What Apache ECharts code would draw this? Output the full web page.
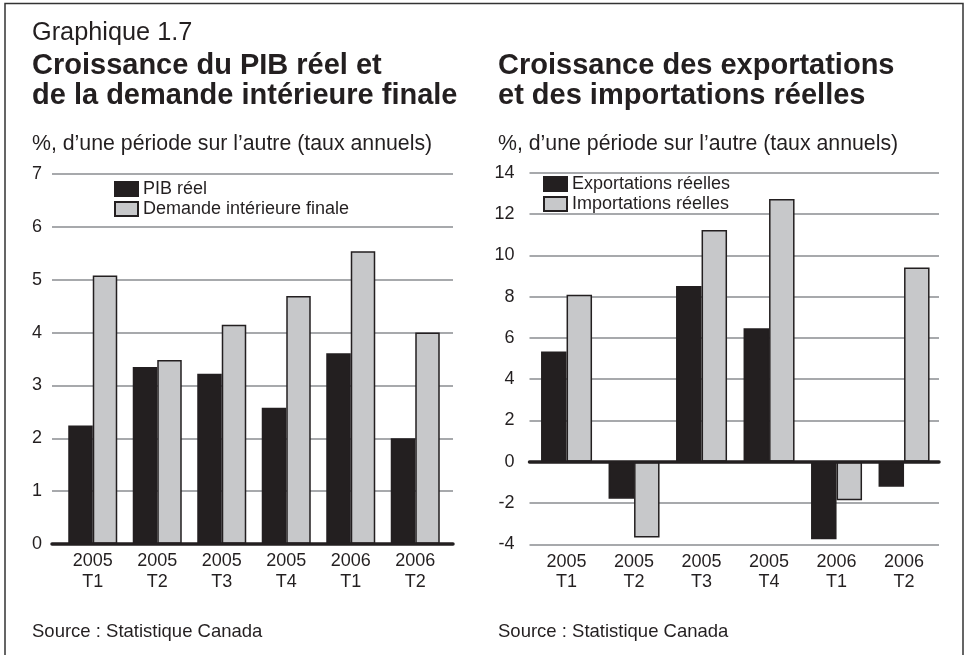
<!DOCTYPE html>
<html>
<head>
<meta charset="utf-8">
<title>Graphique 1.7</title>
<script src="https://cdn.jsdelivr.net/npm/echarts@6/dist/echarts.min.js"></script>
<style>
  html, body { margin: 0; padding: 0; background: #fff; }
  #chart { width: 966px; height: 655px; }
</style>
</head>
<body>
<div id="chart"></div>
<script>
// categories (trimestres)
const categories = ['2005\nT1', '2005\nT2', '2005\nT3', '2005\nT4', '2006\nT1', '2006\nT2']
// graphique de gauche
const pibReel = [2.24, 3.35, 3.22, 2.58, 3.61, 2.0]
const demandeInterieure = [5.08, 3.48, 4.15, 4.69, 5.54, 4.0]
const leftTicks = { min: 0, max: 7, interval: 1 }
// graphique de droite
const exportations = [5.34, -1.79, 8.51, 6.46, -3.76, -1.21]
const importations = [8.09, -3.67, 11.22, 12.72, -1.87, 9.41]
const rightTicks = { min: -4, max: 14, interval: 2 }

const ink = '#231f20'
const greyFill = '#c7c8ca'
const gridGrey = '#a7a9ac'
const font = 'Liberation Sans, Arial, sans-serif'

const chart = echarts.init(document.getElementById('chart'), null, { renderer: 'canvas' })

// texte fixe (titres, sources)
function label (text, x, y, size, weight) {
  return {
    type: 'text',
    x: x,
    y: y,
    silent: true,
    style: {
      text: text,
      fill: ink,
      font: (weight || 'normal') + ' ' + size + 'px ' + font,
      textAlign: 'left',
      textVerticalAlign: 'middle',
      verticalAlign: 'middle'
    }
  }
}

// axe de fond : lignes de grille + ligne du zéro
function backgroundAxes (gridIndex, ticks, labelMargin) {
  return {
    x: {
      type: 'value', gridIndex: gridIndex, min: 0, max: 1, z: 5,
      axisLabel: { show: false }, axisTick: { show: false }, splitLine: { show: false },
      axisLine: { show: true, onZero: true, lineStyle: { color: ink, width: 3.5 } }
    },
    y: {
      type: 'value', gridIndex: gridIndex, min: ticks.min, max: ticks.max, interval: ticks.interval,
      axisLine: { show: false }, axisTick: { show: false },
      axisLabel: { color: ink, fontSize: 18, fontFamily: font, margin: labelMargin },
      splitLine: { show: true, lineStyle: { color: gridGrey, width: 2 } }
    }
  }
}

// axe des barres
function barAxes (gridIndex, ticks) {
  return {
    x: {
      type: 'category', gridIndex: gridIndex, data: categories,
      axisLine: { show: false, onZero: false }, axisTick: { show: false },
      axisLabel: { color: ink, fontSize: 18, fontFamily: font, lineHeight: 20.5, margin: 7, interval: 0 }
    },
    y: {
      type: 'value', gridIndex: gridIndex, min: ticks.min, max: ticks.max, interval: ticks.interval,
      axisLine: { show: false }, axisTick: { show: false }, axisLabel: { show: false }, splitLine: { show: false }
    }
  }
}

function barSeries (name, data, axisIndex, color, width) {
  return {
    name: name,
    type: 'bar',
    xAxisIndex: axisIndex,
    yAxisIndex: axisIndex,
    data: data,
    barWidth: width,
    barGap: '0%',
    itemStyle: { color: color, borderColor: ink, borderWidth: 1.5 }
  }
}

const leftBg = backgroundAxes(0, leftTicks, 10)
const leftBars = barAxes(1, leftTicks)
const rightBg = backgroundAxes(2, rightTicks, 15)
const rightBars = barAxes(3, rightTicks)

const legendText = { color: ink, fontSize: 18, fontFamily: font, lineHeight: 20 }

const option = {
  animation: false,
  backgroundColor: '#fff',
  grid: [
    { left: 52, top: 174, width: 401, height: 370 },
    { left: 60.5, top: 174, width: 387, height: 370 },
    { left: 529.5, top: 172.7, width: 409.5, height: 371.6 },
    { left: 532.8, top: 172.7, width: 405, height: 371.6 }
  ],
  xAxis: [leftBg.x, leftBars.x, rightBg.x, rightBars.x],
  yAxis: [leftBg.y, leftBars.y, rightBg.y, rightBars.y],
  legend: [
    {
      data: ['PIB réel', 'Demande intérieure finale'],
      orient: 'vertical', left: 114, top: 179, padding: 0, itemGap: 0,
      itemWidth: 23, itemHeight: 14, icon: 'rect', selectedMode: false,
      textStyle: legendText
    },
    {
      data: ['Exportations réelles', 'Importations réelles'],
      orient: 'vertical', left: 543, top: 174, padding: 0, itemGap: 0,
      itemWidth: 23, itemHeight: 14, icon: 'rect', selectedMode: false,
      textStyle: legendText
    }
  ],
  series: [
    barSeries('PIB réel', pibReel, 1, ink, 24.5),
    barSeries('Demande intérieure finale', demandeInterieure, 1, greyFill, 24.5),
    barSeries('Exportations réelles', exportations, 3, ink, 25.5),
    barSeries('Importations réelles', importations, 3, greyFill, 25.5)
  ],
  graphic: [
    {
      type: 'rect',
      silent: true,
      shape: { x: 5, y: 3.5, width: 958, height: 700 },
      style: { fill: 'none', stroke: '#333', lineWidth: 1.5 }
    },
    label('Graphique 1.7', 32, 33, 25.3),
    label('Croissance du PIB réel et', 32, 66, 29, 'bold'),
    label('de la demande intérieure finale', 32, 96, 29, 'bold'),
    label('Croissance des exportations', 498, 66, 29, 'bold'),
    label('et des importations réelles', 498, 96, 29, 'bold'),
    label('%, d\u2019une période sur l\u2019autre (taux annuels)', 32, 144, 21.3),
    label('%, d\u2019une période sur l\u2019autre (taux annuels)', 498, 144, 21.3),
    label('Source : Statistique Canada', 32, 631.5, 18.5),
    label('Source : Statistique Canada', 498, 631.5, 18.5)
  ]
}

chart.setOption(option)
</script>
</body>
</html>
